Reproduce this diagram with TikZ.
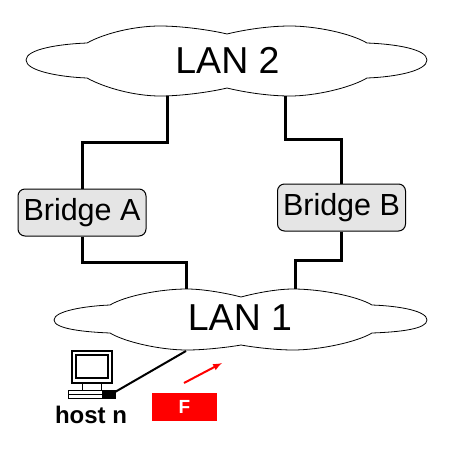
\documentclass[tikz,border=0pt]{standalone}
\usepackage{fontspec}
\setmainfont{Liberation Sans}
\tikzset{
  bridge/.style={
    draw,
    line width=1pt,
    fill=black!10,
    rounded corners=7pt,
    inner sep = 0pt,
    minimum width=128pt,
    minimum height=47pt,
    font=\fontsize{30.5}{30.5}\selectfont
  },
  lanlabel/.style={
    inner sep = 0pt,
    font=\fontsize{37.5}{37.5}\selectfont
  },
  wire/.style={
    line width=3pt
  },
  every picture/.style = {
    x=1pt,
    y=-1pt
  }
}
\begin{document}
\begin{tikzpicture}
            \useasboundingbox (0,0) rectangle (450,451);
            % LAN 2
            \draw[line width=0.8pt] (26,60) .. controls (26,49) and (60,44) .. (87,43)
              .. controls (105,33) and (135,26) .. (160,26)
              .. controls (185,26) and (215,31) .. (227,34)
              .. controls (239,31) and (265,26) .. (290,26)
              .. controls (315,26) and (350,33) .. (367,43)
              .. controls (395,44) and (427,49) .. (427,60)
              .. controls (427,71) and (395,77) .. (367,78)
              .. controls (350,88) and (315,96) .. (290,96)
              .. controls (265,96) and (239,91) .. (227,88)
              .. controls (215,91) and (185,96) .. (160,96)
              .. controls (135,96) and (105,88) .. (87,78)
              .. controls (60,77) and (26,71) .. (26,60) -- cycle;
            \node[lanlabel] (lan2) at (227.5,60) {LAN 2};
            \coordinate (lan2a) at (167,96);
            \coordinate (lan2b) at (285,96);
            % LAN 1
            \draw[line width=0.8pt] (54,320) .. controls (54,311) and (85,306) .. (110,305)
              .. controls (125,296) and (160,289) .. (187,289)
              .. controls (205,289) and (230,294) .. (241,297)
              .. controls (252,294) and (275,289) .. (293,289)
              .. controls (320,289) and (357,296) .. (372,305)
              .. controls (400,306) and (427,311) .. (427,320)
              .. controls (427,329) and (400,332) .. (372,333)
              .. controls (357,342) and (320,350) .. (293,350)
              .. controls (275,350) and (252,347) .. (241,345)
              .. controls (230,347) and (205,350) .. (187,350)
              .. controls (160,350) and (125,342) .. (110,333)
              .. controls (85,332) and (54,329) .. (54,320) -- cycle;
            \node[lanlabel] (lan1) at (240,318) {LAN 1};
            \coordinate (lan1a) at (186,289);
            \coordinate (lan1b) at (295,289);
            \coordinate (lan1c) at (186,351);
            % bridges
            \node[bridge] (brA) at (82,212.5) {Bridge A};
            \node[bridge] (brB) at (341.5,207.5) {Bridge B};
            \draw[wire] (lan2a)--++(0,46) -| (brA.north);
            \draw[wire] (lan2b)--++(0,43) -| (brB.north);
            \draw[wire] (brA.south)--++(0,26) -| (lan1a);
            \draw[wire] (brB.south)--++(0,29) -| (lan1b);
            % host
            \draw[line width=1.4pt,fill=white] (72,351) rectangle (112,383);
            \draw[line width=1.4pt] (76,355) rectangle (108,378);
            \draw[line width=1pt] (82,383) rectangle (101,390);
            \draw[line width=1pt,fill=white] (68,390) rectangle (115,398);
            \fill (102,390) rectangle (115,398);
            \draw[line width=1pt] (68,394) -- (102,394);
            \coordinate (pc) at (115,392);
            \draw[line width=2pt] (pc)--(lan1c);
            \node[inner sep=0pt,font=\fontsize{24}{24}\selectfont\bfseries] (host) at (91,415) {host n};
            % frame
            \coordinate (fa) at (184,383);
            \coordinate (fb) at (222,363);
            \draw[red,line width=2pt,-latex] (fa)--(fb);
            \node[fill=red,text=white,inner sep=0pt,minimum width=65pt,minimum height=28pt,font=\fontsize{19}{19}\selectfont\bfseries] (f) at (184.5,407) {F};
        \end{tikzpicture}
\end{document}
